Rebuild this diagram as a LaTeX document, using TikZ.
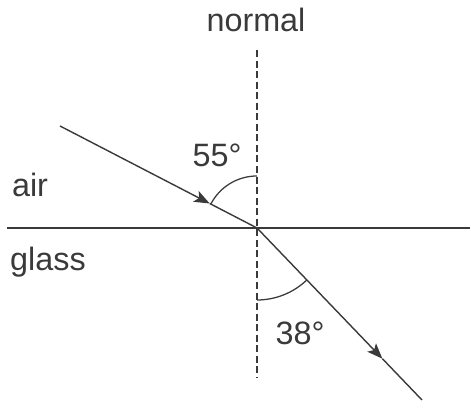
\documentclass[tikz,border=0pt]{standalone}
\usepackage{fontspec}
\setmainfont{Liberation Sans}
\usepackage{tikz}
\usetikzlibrary{arrows.meta, calc}
\definecolor{ink}{HTML}{3A3A3A}
\tikzset{
    every node/.style={inner sep=2pt, text=ink, font=\fontsize{23}{26}\selectfont},
    ray/.style={line width=1pt, draw=ink},
    arr/.style={ray, -{Stealth[length=11pt, width=8.5pt, inset=2.5pt]}},
    normline/.style={line width=0.9pt, draw=ink, dash pattern=on 5pt off 2.5pt},
    anglearc/.style={line width=0.9pt, draw=ink}
}

\begin{document}
\begin{tikzpicture}[x=0.025cm, y=0.025cm]
    \useasboundingbox (0,0) rectangle (470,405);

    \coordinate (O) at (257,177);
    \coordinate (ntop) at (257,355);
    \coordinate (nbot) at (257,27);
    \coordinate (sl) at (7,177);
    \coordinate (sr) at (470,177);
    \coordinate (src) at (60,279);
    \coordinate (dst) at (422,5);
    \coordinate (ah1) at ($(src)!0.76!(O)$);
    \coordinate (ah2) at ($(O)!0.76!(dst)$);

    % boundary and normal
    \draw[ray] (sl) -- (sr);
    \draw[normline] (ntop) -- (nbot);

    % incident and refracted rays
    \draw[arr] (src) -- (ah1);
    \draw[ray] (ah1) -- (O);
    \draw[arr] (O) -- (ah2);
    \draw[ray] (ah2) -- (dst);

    % angles
    \draw[anglearc] (O) ++(90:52) arc[start angle=90, end angle=152.6, radius=52];
    \draw[anglearc] (O) ++(270:72) arc[start angle=270, end angle=313.8, radius=72];

    \node (lnormal) at (256,385) {normal};
    \node (ain) at (217,250) {55°};
    \node (aout) at (300,72) {38°};
    \node (air) at (30,220) {air};
    \node (glass) at (48,143) {glass};
\end{tikzpicture}
\end{document}
